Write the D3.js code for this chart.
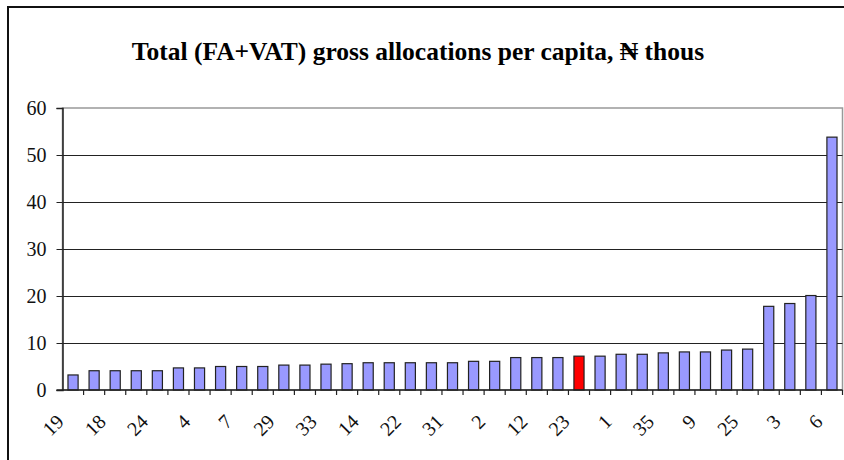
<!DOCTYPE html>
<html>
<head>
<meta charset="utf-8">
<script src="https://cdn.jsdelivr.net/npm/d3@7"></script>
<style>
  body { margin: 0; background: #fff; }
</style>
</head>
<body>
<div id="graph"></div>
<script>
const title = "Total (FA+VAT) gross allocations per capita, \u20A6 thous";

// one value per state, sorted ascending
const values = [
  3.2, 4.1, 4.1, 4.1, 4.1, 4.7, 4.7, 5.0, 5.0, 5.0,
  5.3, 5.3, 5.5, 5.6, 5.8, 5.8, 5.8, 5.8, 5.8, 6.1,
  6.1, 6.9, 6.9, 6.9, 7.2, 7.2, 7.6, 7.6, 7.9, 8.1,
  8.1, 8.5, 8.7, 17.8, 18.4, 20.1, 53.8
];
// labels shown on every second bar
const tickLabels = [
  "19", "18", "24", "4", "7", "29", "33", "14", "22", "31",
  "2", "12", "23", "1", "35", "9", "25", "3", "6"
];
const highlighted = 24; // red bar
const yTicks = [0, 10, 20, 30, 40, 50, 60];

const font = "'Liberation Serif', 'Times New Roman', Times, serif";
const width = 844;
const height = 460;
const margin = { top: 108, bottom: 70, left: 62.5, right: 1.5 };

const svg = d3
  .select("#graph")
  .append("svg")
  .attr("width", width)
  .attr("height", height)
  .attr("font-family", font);

// outer chart border (runs off the right and bottom edges)
svg
  .append("rect")
  .attr("x", 8)
  .attr("y", 7)
  .attr("width", 900)
  .attr("height", 500)
  .attr("fill", "none")
  .attr("stroke", "#111")
  .attr("stroke-width", 2);

svg
  .append("text")
  .attr("x", 418)
  .attr("y", 60)
  .attr("text-anchor", "middle")
  .attr("font-family", font)
  .attr("font-size", 25.5)
  .attr("font-weight", "bold")
  .text(title);

const xScale = d3
  .scaleBand()
  .domain(d3.range(values.length))
  .range([margin.left, width - margin.right])
  .paddingInner(0.52)
  .paddingOuter(0.26);

const yScale = d3
  .scaleLinear()
  .domain([0, 60])
  .range([height - margin.bottom, margin.top]);

const step = xScale.step();
const x0 = margin.left;

// plot area border
svg
  .append("rect")
  .attr("x", margin.left)
  .attr("y", margin.top)
  .attr("width", width - margin.right - margin.left)
  .attr("height", yScale(0) - margin.top)
  .attr("fill", "none")
  .attr("stroke", "#999")
  .attr("stroke-width", 1.5);

// gridlines
svg
  .append("g")
  .selectAll("line")
  .data(yTicks.filter((d) => d > 0 && d < 60))
  .enter()
  .append("line")
  .attr("x1", margin.left)
  .attr("x2", width - margin.right)
  .attr("y1", (d) => Math.round(yScale(d)) + 0.5)
  .attr("y2", (d) => Math.round(yScale(d)) + 0.5)
  .attr("stroke", "#222")
  .attr("stroke-width", 1);

// y axis
const yAxis = d3.axisLeft(yScale).tickValues(yTicks).tickSize(6).tickPadding(10);
const gy = svg
  .append("g")
  .attr("transform", `translate(${margin.left}, 0)`)
  .call(yAxis)
  .attr("font-family", font)
  .attr("font-size", 20);
gy.select(".domain").attr("stroke", "#222").attr("stroke-width", 1.5);
gy.selectAll(".tick line").attr("stroke", "#222");
gy.selectAll(".tick text").attr("fill", "#111");

// bars
svg
  .append("g")
  .selectAll("rect")
  .data(values)
  .enter()
  .append("rect")
  .attr("x", (d, i) => xScale(i))
  .attr("y", (d) => yScale(d))
  .attr("width", xScale.bandwidth())
  .attr("height", (d) => yScale(0) - yScale(d))
  .attr("fill", (d, i) => (i === highlighted ? "#FF0000" : "#9999FF"))
  .attr("stroke", "#222")
  .attr("stroke-width", 1.2);

// x axis line and category ticks between bars
const y0 = yScale(0);
svg
  .append("line")
  .attr("x1", margin.left - 6)
  .attr("x2", width - margin.right)
  .attr("y1", y0)
  .attr("y2", y0)
  .attr("stroke", "#222")
  .attr("stroke-width", 1.5);

svg
  .append("g")
  .selectAll("line")
  .data(d3.range(1, values.length + 1))
  .enter()
  .append("line")
  .attr("x1", (k) => x0 + k * step)
  .attr("x2", (k) => x0 + k * step)
  .attr("y1", y0)
  .attr("y2", y0 + 5)
  .attr("stroke", "#222")
  .attr("stroke-width", 1.2);

// rotated category labels
svg
  .append("g")
  .attr("font-family", font)
  .attr("font-size", 20)
  .selectAll("text")
  .data(tickLabels)
  .enter()
  .append("text")
  .attr("transform", (d, j) => {
    const cx = xScale(j * 2) + xScale.bandwidth() / 2;
    return `translate(${cx - 13}, ${y0 + 28}) rotate(-45)`;
  })
  .attr("text-anchor", "end")
  .attr("dy", "0.35em")
  .attr("fill", "#111")
  .text((d) => d);
</script>
</body>
</html>
